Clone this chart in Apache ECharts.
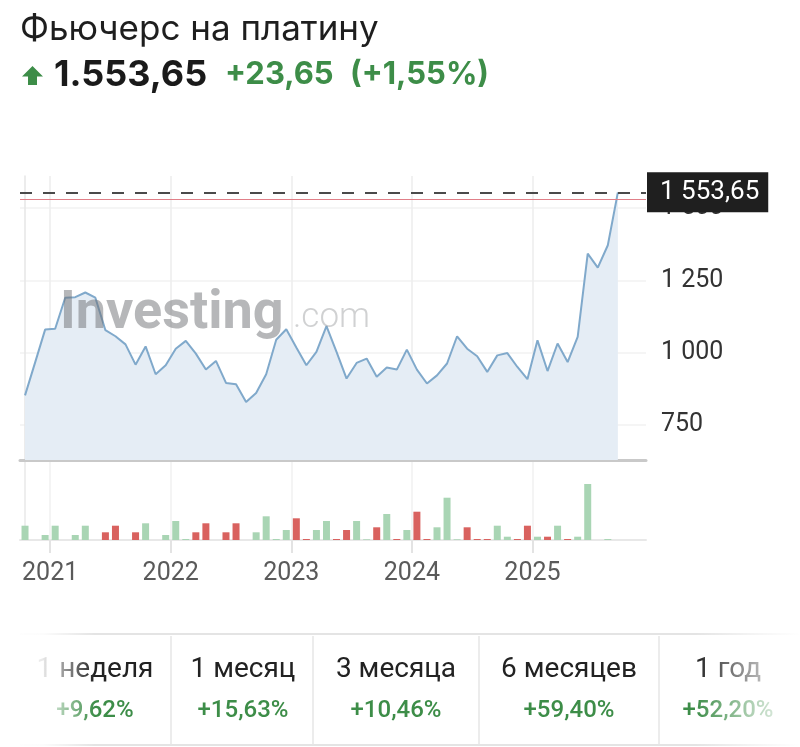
<!DOCTYPE html>
<html>
<head>
<meta charset="utf-8">
<title>Фьючерс на платину</title>
<script src="https://cdn.jsdelivr.net/npm/echarts@6/dist/echarts.min.js"></script>
<style>
html, body { margin: 0; padding: 0; background: #fff; }
#main { width: 800px; height: 747px; }
</style>
</head>
<body>
<div id="main"></div>
<script>
// monthly closes, Oct 2020 .. Sep 2025
const months = [
  '2020-10', '2020-11', '2020-12',
  '2021-01', '2021-02', '2021-03', '2021-04', '2021-05', '2021-06', '2021-07', '2021-08', '2021-09', '2021-10', '2021-11', '2021-12',
  '2022-01', '2022-02', '2022-03', '2022-04', '2022-05', '2022-06', '2022-07', '2022-08', '2022-09', '2022-10', '2022-11', '2022-12',
  '2023-01', '2023-02', '2023-03', '2023-04', '2023-05', '2023-06', '2023-07', '2023-08', '2023-09', '2023-10', '2023-11', '2023-12',
  '2024-01', '2024-02', '2024-03', '2024-04', '2024-05', '2024-06', '2024-07', '2024-08', '2024-09', '2024-10', '2024-11', '2024-12',
  '2025-01', '2025-02', '2025-03', '2025-04', '2025-05', '2025-06', '2025-07', '2025-08', '2025-09'
];
const price = [
  853, 966, 1080,
  1083, 1190, 1192, 1208, 1190, 1078, 1057, 1029, 959, 1022, 926, 957,
  1014, 1041, 997, 942, 972, 896, 891, 830, 861, 926, 1045, 1081,
  1018, 957, 1003, 1092, 1003, 911, 965, 980, 917, 949, 942, 1011,
  942, 894, 922, 963, 1057, 1014, 988, 934, 991, 999, 951, 909,
  1043, 937, 1032, 968, 1055, 1342, 1294, 1371, 1553.65
];
const volume = [
  143, 0, 50,
  143, 0, 50, 143, 0, 77, 143, 0, 77, 167, 0, 50,
  190, 10, 77, 167, 0, 77, 167, 0, 77, 237, 10, 100,
  217, 10, 100, 190, 10, 100, 190, 7, 127, 260, 10, 100,
  283, 10, 127, 423, 7, 127, 10, 10, 143, 33, 10, 143,
  33, 33, 143, 10, 33, 560, 0, 10, 0
];
const xTicks = [2.5, 14.5, 26.5, 38.5, 50.5];   // year boundaries
const yearLabels = ['2021', '2022', '2023', '2024', '2025'];
const yTicks = [750, 1000, 1250, 1500];
const lastPrice = 1553.65;
const prevClose = 1530;
const periods = ['1 неделя', '1 месяц', '3 месяца', '6 месяцев', '1 год'];
const changes = ['+9,62%', '+15,63%', '+10,46%', '+59,40%', '+52,20%'];

const UP = '#a9d5b4';
const DOWN = '#d9625f';
const GREEN = '#3d8d48';
const FONT = 'Roboto, "Noto Sans", sans-serif';

function fmtNum(v) {
  if (v >= 1000) return Math.floor(v / 1000) + ' ' + String(v % 1000).padStart(3, '0');
  return String(v);
}

const myChart = echarts.init(document.getElementById('main'));

const priceData = price.map((v, i) => [i, v]);
const volData = volume.map((v, i) => ({
  value: [i, v],
  itemStyle: { color: (i === 0 || price[i] >= price[i - 1]) ? UP : DOWN }
}));

// table cells
const cellCenters = [95, 243, 396, 569, 728];
const cellSeps = [171, 313, 479, 659];
const tableGraphics = [];
periods.forEach((p, i) => {
  tableGraphics.push({
    type: 'text', x: cellCenters[i], y: 670, z: 10,
    style: { text: p, fill: '#222', font: '28px ' + FONT, textAlign: 'center', textVerticalAlign: 'middle' }
  });
  tableGraphics.push({
    type: 'text', x: cellCenters[i], y: 711, z: 10,
    style: { text: changes[i], fill: GREEN, font: '500 24px ' + FONT, textAlign: 'center', textVerticalAlign: 'middle' }
  });
});
cellSeps.forEach((x) => {
  tableGraphics.push({
    type: 'line', z: 10,
    shape: { x1: x, y1: 636, x2: x, y2: 745 },
    style: { stroke: '#e6e6e6', lineWidth: 1.5 }
  });
});

const option = {
  backgroundColor: '#fff',
  animation: false,
  textStyle: { fontFamily: FONT },
  grid: [
    { left: 20, right: 154, top: 176, height: 284 },
    { left: 20, right: 154, top: 460, height: 80 }
  ],
  xAxis: [
    {
      type: 'value', gridIndex: 0, min: -0.5, max: 61.8,
      axisLine: { show: true, onZero: false, lineStyle: { color: '#c9c9c9', width: 3 } },
      axisTick: { show: false, customValues: xTicks },
      axisLabel: { show: false },
      splitLine: { show: true, lineStyle: { color: '#ededed', width: 1.5 } }
    },
    {
      type: 'value', gridIndex: 1, min: -0.5, max: 61.8,
      axisLine: { show: true, onZero: false, lineStyle: { color: '#e8e8e8', width: 2 } },
      axisTick: { show: true, customValues: xTicks, length: 13, lineStyle: { color: '#e3e3e3', width: 2 } },
      axisLabel: {
        customValues: xTicks, margin: 21, fontSize: 25, color: '#5a5a5a', fontFamily: FONT,
        formatter: (v) => yearLabels[xTicks.indexOf(v)]
      },
      splitLine: { show: true, lineStyle: { color: '#f0f0f0', width: 1.5 } }
    }
  ],
  yAxis: [
    {
      type: 'value', gridIndex: 0, position: 'right', min: 630, max: 1610,
      axisLine: { show: true, lineStyle: { color: '#e6e6e6', width: 1.5 } },
      axisTick: { show: false, customValues: yTicks },
      axisLabel: {
        customValues: yTicks, margin: 15, fontSize: 25, color: '#333', fontFamily: FONT,
        formatter: (v) => fmtNum(v)
      },
      splitLine: { show: true, lineStyle: { color: '#f2f2f2', width: 1.5 } }
    },
    {
      type: 'value', gridIndex: 1, position: 'right', min: 0, max: 800,
      axisLine: { show: true, lineStyle: { color: '#e8e8e8', width: 1.5 } },
      axisTick: { show: false },
      axisLabel: { show: false },
      splitLine: { show: false }
    }
  ],
  series: [
    {
      name: 'price',
      type: 'line',
      xAxisIndex: 0, yAxisIndex: 0,
      data: priceData,
      symbol: 'none',
      lineStyle: { color: '#80a9cb', width: 2 },
      areaStyle: { color: '#e5edf5', opacity: 1 },
      markLine: {
        silent: true,
        symbol: 'none',
        data: [
          {
            yAxis: lastPrice,
            lineStyle: { type: [12, 11], color: '#4a4a4a', width: 2 },
            label: {
              show: true, position: 'end', distance: 1,
              formatter: '1 553,65',
              backgroundColor: '#1f1f1f', color: '#fff',
              fontSize: 26, fontFamily: FONT, lineHeight: 28,
              padding: [6, 9, 6, 13]
            }
          },
          {
            yAxis: prevClose,
            lineStyle: { type: 'solid', color: '#e07f88', width: 1 },
            label: { show: false }
          }
        ]
      }
    },
    {
      name: 'volume',
      type: 'bar',
      xAxisIndex: 1, yAxisIndex: 1,
      data: volData,
      barWidth: 7
    }
  ],
  graphic: [
    {
      type: 'text', x: 20, y: 29,
      style: { text: 'Фьючерс на платину', fill: '#1e1e1e', font: '35px Inter, ' + FONT, textVerticalAlign: 'middle' }
    },
    {
      type: 'polygon',
      shape: { points: [[32.5, 66], [43, 76.5], [37, 76.5], [37, 85], [28, 85], [28, 76.5], [22, 76.5]] },
      style: { fill: GREEN }
    },
    {
      type: 'text', x: 54, y: 75,
      style: { text: '1.553,65', fill: '#1a1a1a', font: 'bold 36px Inter, ' + FONT, textVerticalAlign: 'middle' }
    },
    {
      type: 'text', x: 225, y: 75,
      style: { text: '+23,65', fill: GREEN, font: 'bold 31px Inter, ' + FONT, textVerticalAlign: 'middle' }
    },
    {
      type: 'text', x: 350, y: 75,
      style: { text: '(+1,55%)', fill: GREEN, font: 'bold 31px Inter, ' + FONT, textVerticalAlign: 'middle' }
    },
    // watermark
    {
      type: 'text', x: 60, y: 314, z: 50,
      style: { text: 'Investing', fill: 'rgba(110,112,115,0.5)', font: 'bold 54px ' + FONT, textVerticalAlign: 'middle' }
    },
    {
      type: 'text', x: 293, y: 318, z: 50,
      style: { text: '.com', fill: 'rgba(120,122,125,0.35)', font: '300 35px ' + FONT, textVerticalAlign: 'middle' }
    },
    // table frame
    {
      type: 'line', z: 10,
      shape: { x1: 20, y1: 634, x2: 800, y2: 634 },
      style: { stroke: '#e4e4e4', lineWidth: 2 }
    },
    {
      type: 'line', z: 10,
      shape: { x1: 20, y1: 745, x2: 800, y2: 745 },
      style: { stroke: '#e4e4e4', lineWidth: 2 }
    },
    ...tableGraphics,
    // fades at the scroll edges
    {
      type: 'rect', z: 20,
      shape: { x: 0, y: 630, width: 95, height: 117 },
      style: {
        fill: new echarts.graphic.LinearGradient(0, 0, 1, 0, [
          { offset: 0, color: 'rgba(255,255,255,1)' },
          { offset: 0.45, color: 'rgba(255,255,255,0.9)' },
          { offset: 0.75, color: 'rgba(255,255,255,0.4)' },
          { offset: 1, color: 'rgba(255,255,255,0)' }
        ])
      }
    },
    {
      type: 'rect', z: 20,
      shape: { x: 695, y: 630, width: 105, height: 117 },
      style: {
        fill: new echarts.graphic.LinearGradient(0, 0, 1, 0, [
          { offset: 0, color: 'rgba(255,255,255,0)' },
          { offset: 0.55, color: 'rgba(255,255,255,0.6)' },
          { offset: 1, color: 'rgba(255,255,255,1)' }
        ])
      }
    }
  ]
};

myChart.setOption(option);
window.addEventListener('resize', function () {
  myChart.resize();
});
</script>
</body>
</html>
